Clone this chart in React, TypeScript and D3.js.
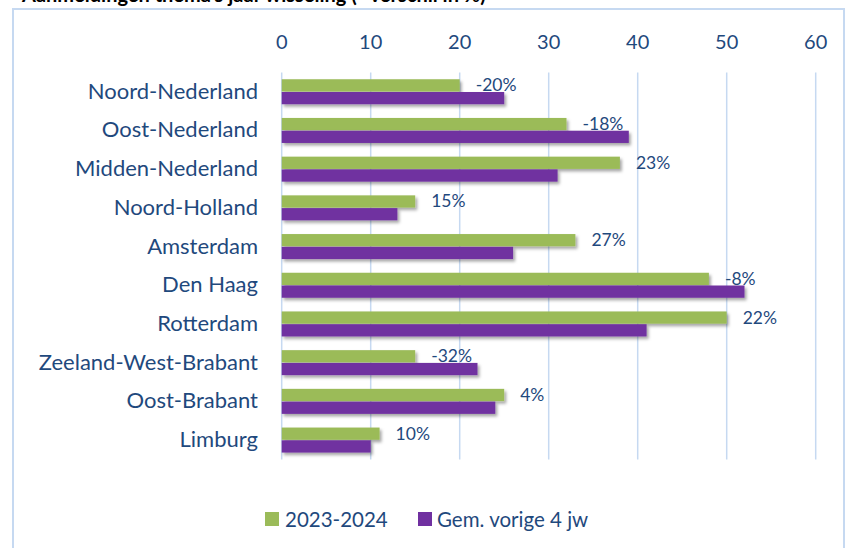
import React from "react";
import * as d3 from "d3";

const categories = [
  "Noord-Nederland",
  "Oost-Nederland",
  "Midden-Nederland",
  "Noord-Holland",
  "Amsterdam",
  "Den Haag",
  "Rotterdam",
  "Zeeland-West-Brabant",
  "Oost-Brabant",
  "Limburg",
];
const current = [20, 32, 38, 15, 33, 48, 50, 15, 25, 11];
const previousAvg = [25, 39, 31, 13, 26, 52, 41, 22, 24, 10];
const changeLabels = ["-20%", "-18%", "23%", "15%", "27%", "-8%", "22%", "-32%", "4%", "10%"];
const xTicks = [0, 10, 20, 30, 40, 50, 60];
const seriesNames = ["2023-2024", "Gem. vorige 4 jw"];
const seriesColors = ["#9BBB59", "#7030A0"];
const title = "Aanmeldingen thema's jaar wisseling (* verschil in %)";

const W = 860;
const H = 548;
const FONT = "Lato, 'Open Sans', sans-serif";
const TEXT = "#1F497D";
const GRID = "#C6D9F1";

export default function App() {
  const x = d3.scaleLinear().domain([0, 60]).range([281.7, 815.7]);
  const y = d3.scaleBand<string>().domain(categories).range([72.4, 459.4]).paddingInner(0);
  const bw = y.bandwidth();
  const inner = d3
    .scaleBand<string>()
    .domain(seriesNames)
    .range([bw / 2 - 12.5, bw / 2 + 12.5])
    .paddingInner(0.04);
  const bh = inner.bandwidth();
  const [gy0, gy1] = y.range();

  return (
    <svg
      width={W}
      height={H}
      style={{ position: "absolute", left: 0, top: 0, background: "#fff" }}
      fontFamily={FONT}
    >
      <defs>
        <filter id="sh" x="-5%" y="-50%" width="115%" height="250%">
          <feDropShadow dx="2" dy="2.5" stdDeviation="1.6" floodColor="#000" floodOpacity="0.35" />
        </filter>
      </defs>
      <rect x={0} y={0} width={W} height={H} fill="#fff" />
      <text x={22} y={2} fontSize={20} fontWeight="bold" fill="#000">
        {title}
      </text>
      <rect x={13} y={9} width={831} height={H + 20} fill="none" stroke={GRID} strokeWidth={2} />

      {xTicks.map((t) => (
        <g key={t}>
          <line x1={x(t)} x2={x(t)} y1={gy0} y2={gy1} stroke={GRID} strokeWidth={1.5} />
          <text x={x(t)} y={49} textAnchor="middle" fontSize={20} fill={TEXT}>
            {t}
          </text>
        </g>
      ))}

      {categories.map((c, i) => {
        const y0 = y(c)!;
        const cy = y0 + bw / 2;
        const gTop = y0 + inner(seriesNames[0])!;
        const pTop = y0 + inner(seriesNames[1])!;
        return (
          <g key={c}>
            <text x={258} y={cy + 7} textAnchor="end" fontSize={22} fill={TEXT}>
              {c}
            </text>
            <rect
              x={x(0)}
              y={gTop}
              width={x(current[i]) - x(0)}
              height={bh}
              fill={seriesColors[0]}
              filter="url(#sh)"
            />
            <rect
              x={x(0)}
              y={pTop}
              width={x(previousAvg[i]) - x(0)}
              height={bh}
              fill={seriesColors[1]}
              filter="url(#sh)"
            />
            <text
              x={x(current[i]) + 16}
              y={gTop + bh / 2 + 6}
              fontSize={17.5}
              fill={TEXT}
            >
              {changeLabels[i]}
            </text>
          </g>
        );
      })}

      <g>
        <rect x={265} y={512} width={14} height={14} fill={seriesColors[0]} />
        <text x={285} y={526.5} fontSize={20.5} fill={TEXT}>
          {seriesNames[0]}
        </text>
        <rect x={418} y={512} width={14} height={14} fill={seriesColors[1]} />
        <text x={437} y={526.5} fontSize={20.5} fill={TEXT}>
          {seriesNames[1]}
        </text>
      </g>
    </svg>
  );
}
